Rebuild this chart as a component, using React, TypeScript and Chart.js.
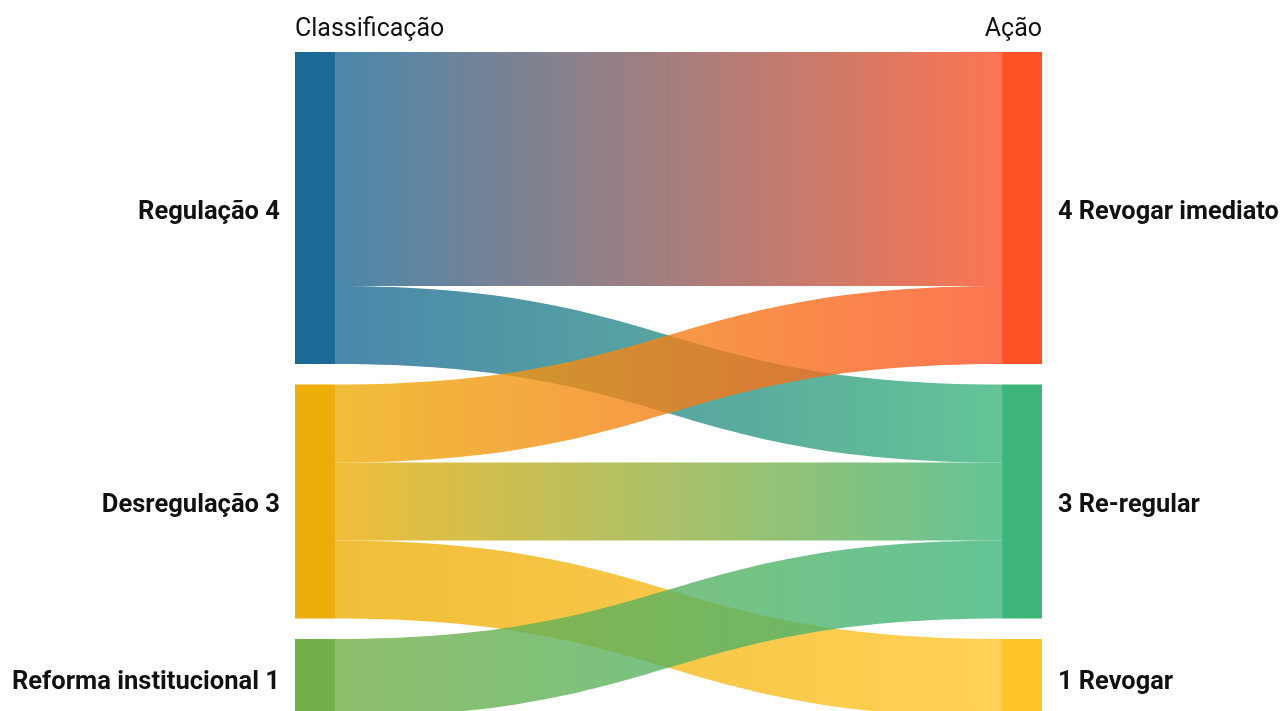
import React, { useEffect, useRef } from "react";
import { Chart, registerables } from "chart.js";

Chart.register(...registerables);

// ---- data ----
const columnTitles = ["Classificação", "Ação"];
const nodeNames = ["Regulação", "Desregulação", "Reforma institucional", "Revogar imediato", "Re-regular", "Revogar"];
const nodeColumns = [0, 0, 0, 1, 1, 1];
const nodeColors = ["#1D6996", "#EDAD08", "#73AF48", "#FD5226", "#3DB57B", "#FFC52B"];
const flowFrom = [0, 0, 1, 1, 1, 2];
const flowTo = [3, 4, 3, 4, 5, 4];
const flowValues = [3, 1, 1, 1, 1, 1];

const GAP = 0.263; // gap between nodes in value units
const NODE_W = 0.0535; // node width as fraction of x range

function hexToRgba(hex: string, a: number) {
  const n = parseInt(hex.slice(1), 16);
  return `rgba(${(n >> 16) & 255},${(n >> 8) & 255},${n & 255},${a})`;
}

function computeLayout() {
  const n = nodeNames.length;
  const inSum = new Array(n).fill(0);
  const outSum = new Array(n).fill(0);
  flowValues.forEach((v, i) => {
    outSum[flowFrom[i]] += v;
    inSum[flowTo[i]] += v;
  });
  const nodeVal = nodeNames.map((_, i) => Math.max(inSum[i], outSum[i]));
  const nodeTop: number[] = new Array(n).fill(0);
  const colCursor: Record<number, number> = {};
  nodeNames.forEach((_, i) => {
    const c = nodeColumns[i];
    const cur = colCursor[c] ?? 0;
    nodeTop[i] = cur;
    colCursor[c] = cur + nodeVal[i] + GAP;
  });
  const outCursor = nodeTop.slice();
  const inCursor = nodeTop.slice();
  const srcY: number[] = [];
  const dstY: number[] = [];
  const order = flowValues.map((_, i) => i);
  const bySrc = order.slice().sort((a, b) => flowFrom[a] - flowFrom[b] || flowTo[a] - flowTo[b]);
  bySrc.forEach((i) => {
    srcY[i] = outCursor[flowFrom[i]];
    outCursor[flowFrom[i]] += flowValues[i];
  });
  const byDst = order.slice().sort((a, b) => flowTo[a] - flowTo[b] || flowFrom[a] - flowFrom[b]);
  byDst.forEach((i) => {
    dstY[i] = inCursor[flowTo[i]];
    inCursor[flowTo[i]] += flowValues[i];
  });
  const maxY = Math.max(...Object.values(colCursor)) - GAP;
  return { nodeVal, nodeTop, srcY, dstY, maxY };
}

const layout = computeLayout();

function drawText(ctx: CanvasRenderingContext2D, text: string, x: number, y: number, align: "left" | "right", sx: number) {
  ctx.save();
  ctx.translate(x, y);
  ctx.scale(sx, 1);
  ctx.textAlign = align;
  ctx.fillText(text, 0, 0);
  ctx.restore();
}

const sankeyPlugin = {
  id: "sankeyDraw",
  afterDatasetsDraw(chart: any) {
    const ctx: CanvasRenderingContext2D = chart.ctx;
    const xs = chart.scales.x;
    const ys = chart.scales.y;
    const { nodeVal, nodeTop, srcY, dstY } = layout;
    const colX0 = (c: number) => (c === 0 ? 0 : 1 - NODE_W);
    const colX1 = (c: number) => (c === 0 ? NODE_W : 1);

    // flows
    flowValues.forEach((v, i) => {
      const s = flowFrom[i];
      const t = flowTo[i];
      const x0 = xs.getPixelForValue(colX1(nodeColumns[s]));
      const x1 = xs.getPixelForValue(colX0(nodeColumns[t]));
      const y0a = ys.getPixelForValue(srcY[i]);
      const y0b = ys.getPixelForValue(srcY[i] + v);
      const y1a = ys.getPixelForValue(dstY[i]);
      const y1b = ys.getPixelForValue(dstY[i] + v);
      const xm = (x0 + x1) / 2;
      const g = ctx.createLinearGradient(x0, 0, x1, 0);
      g.addColorStop(0, hexToRgba(nodeColors[s], 0.8));
      g.addColorStop(1, hexToRgba(nodeColors[t], 0.8));
      ctx.save();
      ctx.beginPath();
      ctx.moveTo(x0, y0a);
      ctx.bezierCurveTo(xm, y0a, xm, y1a, x1, y1a);
      ctx.lineTo(x1, y1b);
      ctx.bezierCurveTo(xm, y1b, xm, y0b, x0, y0b);
      ctx.closePath();
      ctx.fillStyle = g;
      ctx.fill();
      ctx.restore();
    });

    // nodes
    nodeNames.forEach((name, i) => {
      const c = nodeColumns[i];
      const xa = xs.getPixelForValue(colX0(c));
      const xb = xs.getPixelForValue(colX1(c));
      const ya = ys.getPixelForValue(nodeTop[i]);
      const yb = ys.getPixelForValue(nodeTop[i] + nodeVal[i]);
      ctx.fillStyle = nodeColors[i];
      ctx.fillRect(xa, ya, xb - xa, yb - ya);
      ctx.fillStyle = "#111111";
      ctx.font = "bold 25px Roboto";
      ctx.textBaseline = "alphabetic";
      const ym = (ya + yb) / 2 + 11;
      if (c === 0) {
        drawText(ctx, `${name} ${nodeVal[i]}`, xa - 15, ym, "right", 1.022);
      } else {
        drawText(ctx, `${nodeVal[i]} ${name}`, xb + 16, ym, "left", 1.015);
      }
    });

    // column titles
    ctx.fillStyle = "#111111";
    ctx.font = "400 25px Roboto";
    ctx.textBaseline = "alphabetic";
    const titleY = ys.getPixelForValue(0) - 16;
    drawText(ctx, columnTitles[0], xs.getPixelForValue(0), titleY, "left", 1.0);
    drawText(ctx, columnTitles[1], xs.getPixelForValue(1), titleY, "right", 1.0);
  },
};

export default function App() {
  const ref = useRef<HTMLCanvasElement | null>(null);
  useEffect(() => {
    if (!ref.current) return;
    const chart = new Chart(ref.current, {
      type: "scatter",
      data: { datasets: [] },
      options: {
        animation: false,
        responsive: true,
        maintainAspectRatio: false,
        layout: { padding: { left: 295, right: 239, top: 52, bottom: 3 } },
        plugins: { legend: { display: false }, tooltip: { enabled: false } },
        scales: {
          x: { type: "linear", min: 0, max: 1, display: false },
          y: { type: "linear", min: 0, max: layout.maxY, reverse: true, display: false },
        },
      },
      plugins: [sankeyPlugin],
    });
    return () => chart.destroy();
  }, []);
  return (
    <div style={{ position: "fixed", left: 0, top: 0, width: 1281, height: 711, overflow: "hidden", background: "#fff" }}>
      <div style={{ position: "relative", width: 1281, height: 720 }}>
        <canvas ref={ref} />
      </div>
    </div>
  );
}
